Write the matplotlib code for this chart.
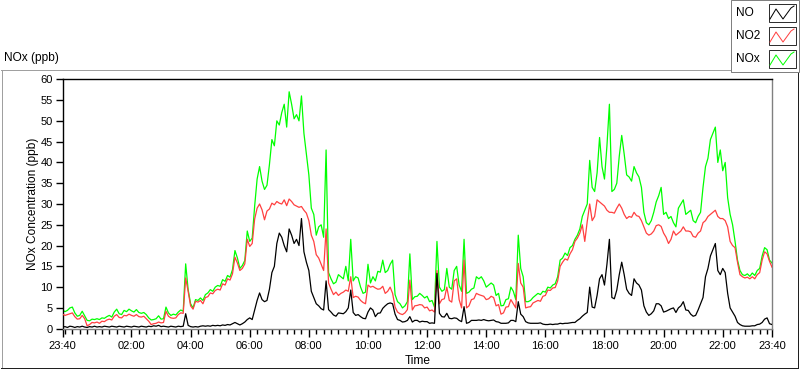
import numpy as np
import matplotlib
matplotlib.use("Agg")
import matplotlib.pyplot as plt
from matplotlib.patches import Rectangle
from matplotlib.lines import Line2D

plt.rcParams['font.family'] = ['Liberation Sans', 'DejaVu Sans']

# ---------------- data (5-minute samples starting 23:40) ----------------
sample_minutes = 5
start_time = "23:40"

nox = [
    4.5, 4.1, 4.4, 5.0, 5.2, 3.8, 3.0, 3.2, 4.2, 3.1, 2.0, 1.9,
    2.3, 2.2, 2.4, 2.2, 2.6, 2.5, 2.9, 3.2, 2.8, 4.0, 4.7, 3.6,
    3.4, 4.4, 4.1, 4.7, 4.3, 4.0, 4.6, 3.9, 3.7, 3.9, 3.4, 2.6,
    2.1, 2.2, 2.4, 3.1, 2.3, 2.4, 5.2, 3.8, 3.2, 3.5, 3.3, 4.0,
    4.5, 4.2, 15.6, 9.4, 6.0, 5.0, 7.0, 6.8, 7.4, 6.8, 8.2, 8.6,
    9.4, 9.0, 10.0, 10.4, 10.2, 11.8, 11.4, 12.8, 12.4, 14.2, 18.8, 17.0,
    14.5, 15.2, 16.4, 23.5, 21.0, 21.8, 29.5, 36.0, 39.0, 35.5, 33.5, 34.5,
    39.5, 45.5, 44.0, 50.0, 49.0, 52.0, 54.0, 48.5, 57.0, 54.0, 50.5, 51.5,
    50.0, 56.0, 47.0, 42.0, 37.0, 29.0, 27.5, 22.5, 24.5, 25.0, 22.0, 43.0,
    13.5, 12.0, 10.8, 11.2, 13.0, 12.5, 12.0, 15.0, 11.5, 21.5, 11.5, 12.5,
    12.2, 10.0, 8.5, 8.8, 15.5, 11.0, 12.5, 11.5, 13.8, 13.6, 16.5, 13.5,
    14.0, 15.5, 16.5, 8.2, 6.5, 6.0, 5.0, 5.5, 6.5, 18.0, 7.0, 7.7,
    7.8, 8.5, 8.0, 7.4, 7.8, 6.5, 6.8, 5.2, 21.0, 10.0, 9.0, 9.4,
    14.5, 10.0, 9.5, 14.0, 15.0, 10.5, 9.0, 21.5, 8.5, 8.8, 9.5, 9.8,
    12.5, 12.0, 12.5, 11.5, 10.0, 10.5, 11.0, 10.5, 8.0, 8.5, 5.5, 5.6,
    7.0, 7.2, 10.0, 9.0, 7.0, 22.5, 14.5, 12.5, 6.5, 6.5, 6.8, 7.5,
    8.0, 8.5, 8.2, 9.0, 8.8, 10.0, 9.8, 10.5, 10.8, 12.5, 16.5, 17.0,
    18.2, 17.6, 19.5, 20.0, 21.5, 22.5, 24.0, 27.0, 28.5, 30.0, 40.5, 34.0,
    33.0, 37.5, 46.0, 39.0, 36.0, 44.0, 54.0, 33.0, 33.5, 35.0, 41.5, 46.5,
    42.0, 37.0, 36.5, 35.5, 39.0, 37.5, 36.5, 34.0, 28.0, 25.5, 25.0, 26.0,
    28.0, 30.5, 32.0, 34.0, 27.5, 28.0, 26.5, 27.0, 25.5, 24.5, 29.0, 30.0,
    31.0, 27.5, 28.0, 28.5, 26.0, 25.5, 27.0, 28.0, 34.0, 39.0, 41.0, 45.5,
    47.0, 48.5, 40.0, 43.0, 38.0, 40.0, 31.5, 27.5, 25.0, 21.0, 16.5, 14.0,
    13.0, 12.8, 13.2, 12.6, 13.4, 12.8, 14.0, 14.5, 17.5, 19.5, 19.0, 16.5,
    15.8,
]

no2 = [
    3.5, 3.2, 3.4, 3.6, 3.8, 2.9, 2.3, 2.4, 3.2, 2.4, 0.7, 1.0,
    1.5, 1.4, 1.6, 1.3, 1.8, 1.7, 2.1, 2.3, 2.1, 3.0, 3.4, 2.7,
    2.6, 3.2, 3.1, 3.5, 3.2, 3.0, 3.4, 2.9, 2.8, 3.0, 2.4, 1.8,
    1.0, 1.2, 1.3, 1.6, 1.4, 1.5, 4.2, 3.0, 2.6, 2.5, 2.6, 3.4,
    3.8, 3.7, 12.2, 9.0, 5.5, 4.7, 6.6, 6.4, 6.8, 6.0, 7.5, 7.7,
    8.6, 8.4, 9.2, 9.5, 9.3, 10.8, 10.5, 12.0, 11.7, 13.2, 17.2, 15.8,
    14.0, 14.5, 15.6, 21.5, 19.8, 20.5, 26.4, 29.0, 30.0, 28.6, 26.2, 28.3,
    28.8, 30.2, 29.8, 30.6, 30.2, 30.0, 31.0, 29.6, 31.2, 30.6, 29.8, 29.5,
    29.2, 29.4, 28.5, 27.8, 26.0, 22.5, 21.0, 17.8, 17.0, 15.5, 14.0, 24.0,
    11.0, 9.5, 8.2, 8.8, 8.0, 8.5, 8.8, 9.3, 9.0, 12.5, 7.5, 7.8,
    7.6, 6.8, 6.3, 6.0, 10.5, 10.0, 10.2, 9.8, 9.5, 9.6, 10.2, 8.5,
    9.0, 10.0, 8.5, 5.2, 4.0, 3.6, 3.4, 3.8, 4.6, 11.7, 4.5, 5.5,
    5.6, 5.8, 5.7, 5.0, 5.2, 4.3, 4.5, 4.0, 14.0, 6.0, 7.0, 7.2,
    10.0, 6.8, 6.4, 11.5, 12.0, 7.0, 5.0, 16.5, 5.0, 5.5, 7.0, 7.2,
    8.5, 8.2, 8.0, 7.8, 7.0, 7.2, 7.8, 7.5, 5.5, 5.8, 3.5, 3.8,
    5.2, 5.3, 7.0, 6.0, 5.0, 15.7, 11.0, 10.0, 5.0, 5.2, 5.3, 6.2,
    6.5, 6.8, 6.6, 7.8, 8.0, 9.3, 9.2, 9.8, 9.9, 11.5, 15.0, 16.0,
    16.8, 16.5, 18.0, 19.0, 21.0, 21.8, 23.0, 25.0, 21.0, 25.8, 30.0, 26.0,
    27.0, 31.0, 30.5, 30.0, 29.5, 28.5, 28.0, 28.0, 27.8, 29.0, 30.0, 29.0,
    27.5, 26.5, 27.0, 26.8, 28.0, 27.2, 27.0, 26.0, 24.5, 23.0, 22.5, 22.8,
    23.5, 24.8, 25.0, 24.6, 23.0, 22.0, 20.5, 21.5, 23.5, 22.5, 23.0, 23.5,
    24.5, 23.5, 23.5, 23.3, 22.2, 22.0, 23.0, 23.5, 25.5, 26.0, 27.0, 27.5,
    28.0, 28.5, 27.0, 26.5, 26.5, 26.0, 24.5, 21.0, 20.0, 19.5, 16.0, 13.0,
    12.5, 12.2, 12.4, 12.0, 12.5, 12.0, 13.0, 13.5, 16.5, 18.5, 18.0, 16.2,
    14.8,
]

no = [
    0.4, 0.5, 0.3, 0.6, 0.5, 0.3, 0.5, 0.4, 0.6, 0.4, 0.3, 0.5,
    0.4, 0.6, 0.4, 0.5, 0.4, 0.6, 0.5, 0.4, 0.6, 0.5, 0.4, 0.6,
    0.5, 0.4, 0.6, 0.5, 0.4, 0.6, 0.5, 0.4, 0.6, 0.5, 0.4, 0.6,
    0.5, 0.7, 0.6, 0.8, 0.5, 0.6, 0.5, 0.4, 0.6, 0.5, 0.4, 0.6,
    0.5, 0.6, 3.6, 0.8, 0.5, 0.4, 0.5, 0.4, 0.6, 0.7, 0.6, 0.7,
    0.6, 0.8, 0.7, 0.8, 0.7, 0.9, 0.8, 1.0, 0.9, 1.2, 1.5, 1.2,
    0.9, 1.2, 1.6, 2.2, 2.6, 2.2, 4.5, 6.8, 8.6, 7.0, 6.5, 6.8,
    9.5, 13.5, 15.0, 20.5, 23.0, 22.0, 20.0, 18.5, 24.0, 22.5, 20.5, 21.5,
    20.0, 26.5, 18.5, 16.0, 14.0, 9.0, 7.5, 6.0, 5.5, 4.8, 4.5, 11.5,
    4.6, 4.0, 3.3, 3.0, 3.8, 3.7, 3.6, 4.1, 5.0, 9.3, 3.9, 3.2,
    3.4, 2.9, 2.5, 2.4, 4.0, 5.0, 4.5, 2.9, 3.7, 3.8, 4.9, 5.5,
    6.0, 6.2, 6.0, 3.5, 2.2, 2.0, 1.6, 1.7, 2.0, 2.9, 1.6, 2.0,
    2.0, 1.6, 1.8, 1.7, 1.7, 1.3, 1.4, 1.3, 13.3, 3.7, 2.9, 2.8,
    3.7, 2.5, 2.4, 2.6, 2.5, 2.0, 1.7, 5.3, 1.3, 1.5, 2.0, 2.0,
    2.0, 2.1, 2.0, 2.2, 2.0, 1.9, 2.0, 2.1, 1.7, 1.6, 1.3, 1.3,
    1.3, 1.4, 2.0, 2.0, 1.7, 6.5, 3.5, 2.9, 1.7, 1.4, 1.3, 1.3,
    1.3, 1.3, 1.4, 1.1, 1.0, 1.0, 1.1, 1.0, 1.1, 1.1, 1.3, 1.2,
    1.3, 1.3, 1.4, 1.5, 1.5, 2.0, 2.4, 3.0, 3.5, 3.9, 10.0, 5.2,
    5.0, 8.0, 12.0, 13.0, 10.5, 15.5, 21.5, 7.5, 7.2, 9.3, 13.0, 16.0,
    13.0, 9.5, 8.5, 8.0, 12.0, 11.0, 10.5, 9.3, 5.5, 4.0, 3.2, 3.6,
    4.3, 6.0, 6.0, 5.5, 4.0, 4.2, 4.5, 4.8, 5.0, 3.9, 5.0, 5.5,
    6.5, 4.5, 4.4, 3.5, 3.0, 3.2, 4.5, 6.0, 7.5, 12.5, 14.5, 17.5,
    19.0, 20.5, 14.0, 13.0, 14.5, 13.5, 8.5, 5.0, 4.0, 3.0, 1.5, 1.0,
    0.7, 0.6, 0.6, 0.6, 0.7, 0.7, 1.0, 1.1, 1.5, 2.3, 2.6, 1.2,
    1.0,
]

series_names = ["NO", "NO2", "NOx"]
series_colors = ["#000000", "#ff4040", "#00ff00"]
x_tick_labels = ["23:40", "02:00", "04:00", "06:00", "08:00", "10:00", "12:00",
                 "14:00", "16:00", "18:00", "20:00", "22:00", "23:40"]
y_ticks = list(range(0, 61, 5))

# ---------------- helpers ----------------
W, H = 800, 369


def fx(x):
    return x / W


def fy(y):
    return 1 - y / H


def to_min(label, idx, n):
    h, m = map(int, label.split(":"))
    sh, sm = map(int, start_time.split(":"))
    d = ((h * 60 + m) - (sh * 60 + sm)) % 1440
    if idx == n - 1 and d == 0:
        d = 1440
    return d


n = min(len(no), len(no2), len(nox))
t = np.arange(n) * sample_minutes
span = 1440

fig = plt.figure(figsize=(8, 3.69), dpi=100)
fig.patch.set_facecolor("white")

px = 0.72  # one pixel in points

# outer graph frame
fig.add_artist(Line2D([fx(1), fx(798)], [fy(69.5), fy(69.5)], color="#a0a0a0", lw=px))
fig.add_artist(Line2D([fx(1.5), fx(1.5)], [fy(69.5), fy(367.5)], color="#a0a0a0", lw=px))
fig.add_artist(Line2D([fx(1), fx(798)], [fy(367.5), fy(367.5)], color="#202020", lw=px))
fig.add_artist(Line2D([fx(797.5), fx(797.5)], [fy(69.5), fy(367.5)], color="#202020", lw=px))

ax = fig.add_axes([fx(62.5), fy(328.7), (772 - 62.5) / W, (328.7 - 79.3) / H])
ax.set_facecolor("white")

ax.plot(t, nox[:n], color=series_colors[2], lw=0.9, zorder=2)
ax.plot(t, no2[:n], color=series_colors[1], lw=0.9, zorder=3)
ax.plot(t, no[:n], color=series_colors[0], lw=0.9, zorder=4)

ax.set_xlim(0, span)
ax.set_ylim(0, 60)

for side in ["left", "top"]:
    ax.spines[side].set_color("black")
    ax.spines[side].set_linewidth(1.0)
for side in ["right", "bottom"]:
    ax.spines[side].set_color("#808080")
    ax.spines[side].set_linewidth(1.0)

ax.set_yticks(y_ticks)
ax.set_yticklabels([str(v) for v in y_ticks])
xt = [to_min(l, i, len(x_tick_labels)) for i, l in enumerate(x_tick_labels)]
ax.set_xticks(xt)
ax.set_xticklabels(x_tick_labels)
minor = [m for m in range(5, span, 15)]
ax.set_xticks(minor, minor=True)

ax.tick_params(axis="y", direction="out", length=5, width=1, color="black",
               labelsize=8, pad=2)
ax.tick_params(axis="x", which="major", direction="out", length=6, width=1,
               color="black", labelsize=8, pad=2.5)
ax.tick_params(axis="x", which="minor", direction="out", length=3.5, width=1,
               color="black")

fig.text(fx(33), fy(204), "NOx Concentration (ppb)", rotation=90, ha="center",
         va="center", fontsize=8.6)
fig.text(fx(418), fy(361), "Time", ha="center", va="center", fontsize=8.6)
fig.text(fx(4), fy(58), "NOx (ppb)", ha="left", va="center", fontsize=8.6)

# legend box
fig.add_artist(Rectangle((fx(730.5), fy(72)), (799 - 730.5) / W, 72 / H,
                         transform=fig.transFigure, facecolor="white",
                         edgecolor="#808080", lw=px, zorder=5))
for k, (name, col) in enumerate(zip(series_names, series_colors)):
    yc = 13 + 23 * k
    fig.text(fx(736), fy(yc), name, ha="left", va="center", fontsize=8.6, zorder=6)
    fig.add_artist(Rectangle((fx(768.5), fy(yc + 9)), 27.5 / W, 18 / H,
                             transform=fig.transFigure, facecolor="white",
                             edgecolor="#303030", lw=px, zorder=6))
    zx = [770, 776, 783, 791, 794]
    zy = [yc + 6, yc - 4, yc + 6, yc - 5, yc - 7]
    fig.add_artist(Line2D([fx(v) for v in zx], [fy(v) for v in zy], color=col,
                          lw=px, zorder=7))

fig.savefig("out.png", dpi=100, facecolor="white")
